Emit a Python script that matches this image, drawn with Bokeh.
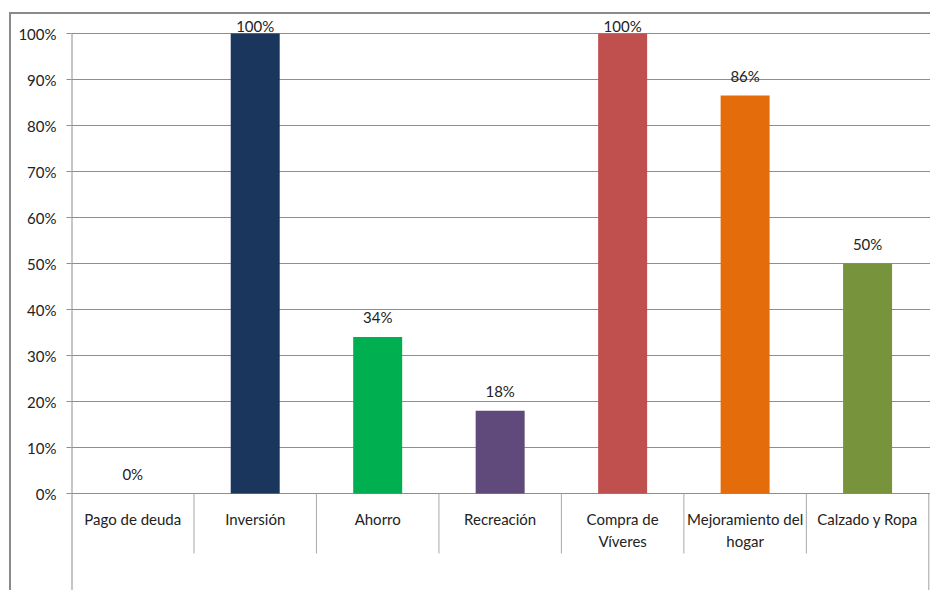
from bokeh.plotting import figure
from bokeh.models import Range1d, FixedTicker, NumeralTickFormatter, ColumnDataSource
from bokeh.core.properties import value
from bokeh.embed import file_html
from bokeh.resources import INLINE

categories = ["Pago de deuda", "Inversión", "Ahorro", "Recreación",
              "Compra de\nVíveres", "Mejoramiento del\nhogar", "Calzado y Ropa"]
values = [0.0, 1.00, 0.34, 0.18, 1.00, 0.865, 0.50]
value_labels = ["0%", "100%", "34%", "18%", "100%", "86%", "50%"]
colors = ["#1B365D", "#1B365D", "#00B050", "#604A7B", "#C0504D", "#E46C0A", "#77933C"]
y_ticks = [0, 0.1, 0.2, 0.3, 0.4, 0.5, 0.6, 0.7, 0.8, 0.9, 1.0]

FONT = "Lato"
n = len(categories)
px = 460.0  # pixels per 1.0 of the value axis
y_top = 1.0 + 19 / px
y_bottom = -(99 / px)

p = figure(width=921, height=578, output_backend="svg", toolbar_location=None,
           x_range=Range1d(0, n + 0.03), y_range=Range1d(y_bottom, y_top),
           min_border_left=60, min_border_right=0, min_border_top=0, min_border_bottom=0)
p.styles = {"border-top": "2px solid #8a8a8a", "border-left": "2px solid #8a8a8a",
            "margin-top": "12px", "margin-left": "9px"}
p.outline_line_color = None
p.xaxis.visible = False
p.xgrid.visible = False

yaxis = p.yaxis[0]
yaxis.ticker = FixedTicker(ticks=y_ticks)
yaxis.formatter = NumeralTickFormatter(format="0%")
yaxis.axis_line_color = None
yaxis.major_tick_out = 5
yaxis.major_tick_in = 0
yaxis.minor_tick_line_color = None
yaxis.major_tick_line_color = "#8e8e8e"
yaxis.major_label_text_font = FONT
yaxis.major_label_text_font_size = "15px"
yaxis.major_label_text_color = "#222222"
yaxis.major_label_standoff = 10

p.ygrid.ticker = FixedTicker(ticks=y_ticks)
p.ygrid.grid_line_color = "#8e8e8e"
p.ygrid.grid_line_width = 1

xs = [i + 0.5 for i in range(n)]
ly = [min(v, 1.0 + 8 / px - 20 / px) for v in values]
src = ColumnDataSource(dict(x=xs, top=values, color=colors, lab=value_labels,
                            ly=ly, cat=categories))
p.vbar(x="x", top="top", bottom=0, width=0.4, fill_color="color", line_color=None, source=src)

# value labels
p.text(x="x", y="ly", text="lab", source=src, text_align="center", text_baseline="middle",
       y_offset=-20, text_font=value(FONT), text_font_size="15px", text_color="#222222")

# category table below the axis
sep_x = list(range(1, n))
p.segment(x0=sep_x, y0=[0] * len(sep_x), x1=sep_x, y1=[-60 / px] * len(sep_x),
          line_color="#a8a8a8", line_width=1)
p.segment(x0=[0], y0=[y_bottom], x1=[0], y1=[1.0], line_color="#8e8e8e", line_width=2)
p.segment(x0=[n], y0=[y_bottom], x1=[n], y1=[0], line_color="#a0a0a0", line_width=1)
p.text(x="x", y=-16 / px, text="cat", source=src, text_align="center", text_baseline="top",
       text_font=value(FONT), text_font_size="15px", text_color="#222222",
       text_line_height=1.25)

open("out.html", "w").write(file_html(p, INLINE))
